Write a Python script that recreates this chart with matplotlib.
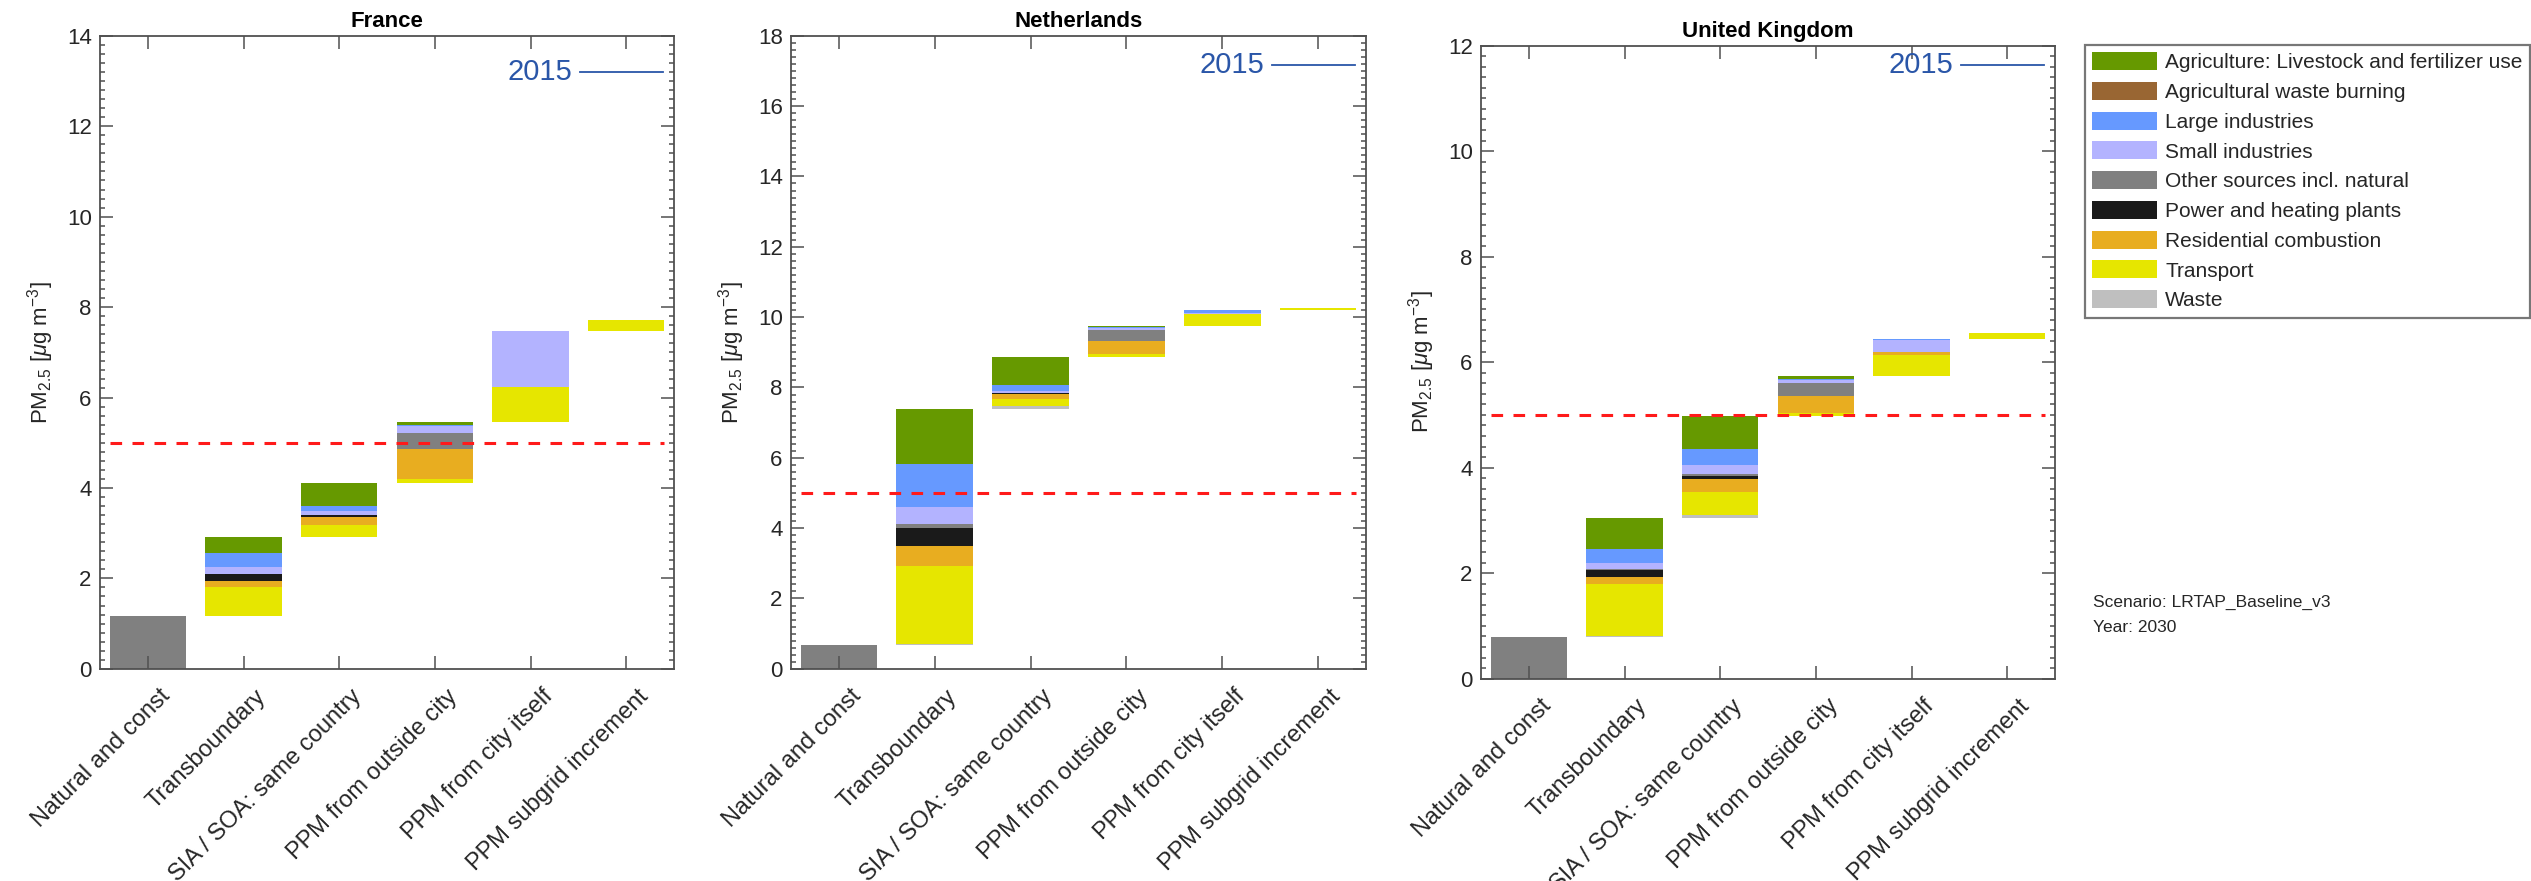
#!/usr/bin/env python3

import matplotlib as mpl
mpl.use("Agg")
import matplotlib.pyplot as plt
import matplotlib.transforms as mtransforms
from matplotlib.patches import Patch
from matplotlib.ticker import MultipleLocator
import numpy as np

# --- data -----------------------------------------------------------------
stages = ["Natural and const", "Transboundary", "SIA / SOA: same country",
          "PPM from outside city", "PPM from city itself", "PPM subgrid increment"]

sectors = ["Agriculture: Livestock and fertilizer use", "Agricultural waste burning",
           "Large industries", "Small industries", "Other sources incl. natural",
           "Power and heating plants", "Residential combustion", "Transport", "Waste"]
sector_colors = ["#669900", "#996633", "#6699ff", "#b3b3ff", "#808080",
                 "#1a1a1a", "#e8ad20", "#e6e600", "#bfbfbf"]

countries = ["France", "Netherlands", "United Kingdom"]
natural = [1.16, 0.68, 0.79]
value_2015 = [13.2, 17.17, 11.63]
ymax = [14, 18, 12]

# rows = sectors (legend order), cols = Transboundary, SIA, outside city, city, subgrid
france = [
    [0.35, 0.50, 0.05, 0.00, 0.00],
    [0.00, 0.00, 0.00, 0.00, 0.00],
    [0.30, 0.10, 0.02, 0.01, 0.00],
    [0.16, 0.09, 0.17, 1.23, 0.00],
    [0.01, 0.01, 0.34, 0.00, 0.00],
    [0.15, 0.05, 0.00, 0.00, 0.00],
    [0.14, 0.17, 0.67, 0.01, 0.00],
    [0.63, 0.26, 0.10, 0.78, 0.24],
    [0.01, 0.01, 0.00, 0.00, 0.00],
]
netherlands = [
    [1.58, 0.81, 0.02, 0.01, 0.00],
    [0.00, 0.00, 0.00, 0.00, 0.00],
    [1.22, 0.17, 0.02, 0.07, 0.00],
    [0.48, 0.04, 0.06, 0.02, 0.00],
    [0.12, 0.02, 0.32, 0.00, 0.00],
    [0.51, 0.02, 0.00, 0.00, 0.00],
    [0.55, 0.13, 0.37, 0.01, 0.00],
    [2.23, 0.22, 0.08, 0.35, 0.07],
    [0.02, 0.07, 0.00, 0.00, 0.00],
]
uk = [
    [0.60, 0.61, 0.06, 0.00, 0.00],
    [0.00, 0.00, 0.00, 0.00, 0.00],
    [0.25, 0.32, 0.01, 0.02, 0.00],
    [0.12, 0.17, 0.07, 0.23, 0.00],
    [0.02, 0.02, 0.24, 0.00, 0.00],
    [0.13, 0.07, 0.00, 0.00, 0.00],
    [0.13, 0.24, 0.33, 0.05, 0.00],
    [1.00, 0.43, 0.06, 0.40, 0.11],
    [0.01, 0.06, 0.00, 0.00, 0.00],
]
contributions = [france, netherlands, uk]

who_guideline = 5.0
scenario_text = "Scenario: LRTAP_Baseline_v3"
year_text = "Year: 2030"

# --- style ----------------------------------------------------------------
plt.rcParams["font.family"] = ["Liberation Sans", "DejaVu Sans"]
plt.rcParams["mathtext.fontset"] = "custom"
plt.rcParams["mathtext.rm"] = "Liberation Sans"
plt.rcParams["mathtext.it"] = "Liberation Sans:italic"
plt.rcParams["mathtext.bf"] = "Liberation Sans:bold"

dpi = 100
fig = plt.figure(figsize=(2531 / dpi, 881 / dpi), dpi=dpi)

axes_pos = [
    [100 / 2531, 212.2 / 881, 574 / 2531, 633.0 / 881],
    [791 / 2531, 212.2 / 881, 575 / 2531, 633.0 / 881],
    [1481 / 2531, 202.4 / 881, 574 / 2531, 633.0 / 881],
]

edge_col = "#505050"
text_col = "#262626"
x = np.arange(1, len(stages) + 1)
width = 0.8


def draw_country(ax, name, nat, contrib, y2015, top):
    # natural bar from zero
    ax.bar(x[0], nat, width, color="#808080", linewidth=0)
    contrib = np.array(contrib)
    base = nat
    # stack from the last sector (waste) up to agriculture
    for j in range(contrib.shape[1]):
        b = base
        for i in range(len(sectors) - 1, -1, -1):
            v = contrib[i, j]
            if v > 0:
                ax.bar(x[j + 1], v, width, bottom=b, color=sector_colors[i], linewidth=0)
            b += v
        base = b

    ax.plot([0.6, 6.4], [who_guideline, who_guideline], color="#ff1a1a",
            lw=2.2, linestyle=(0, (3.8, 3.4)))

    # 2015 marker
    ax.plot([5.52, 6.38], [y2015, y2015], color="#2a56a8", lw=1.3)
    ax.text(5.44, y2015, "2015", color="#2a56a8", fontsize=21, ha="right", va="center")

    ax.set_xlim(0.5, 6.5)
    ax.set_ylim(0, top)
    ax.yaxis.set_major_locator(MultipleLocator(2))
    ax.yaxis.set_minor_locator(MultipleLocator(0.2))

    ax.tick_params(axis="both", which="both", direction="in", top=True, right=True,
                   color=edge_col, width=1.1)
    ax.tick_params(axis="both", which="major", length=9.4)
    ax.tick_params(axis="y", which="minor", length=3.6)
    ax.tick_params(axis="x", which="major", pad=17.5)
    ax.tick_params(axis="y", which="major", labelsize=16, labelcolor=text_col, pad=6)
    for s in ax.spines.values():
        s.set_color(edge_col)
        s.set_linewidth(1.3)

    ax.set_xticks(x)
    ax.set_xticklabels(stages, rotation=45, ha="right", va="center",
                       rotation_mode="anchor", fontsize=17, color=text_col)
    # shift rotated labels so their ends sit just right of the ticks
    offset = mtransforms.ScaledTranslation(19 / dpi, 0, fig.dpi_scale_trans)
    for lab in ax.get_xticklabels():
        lab.set_transform(lab.get_transform() + offset)

    ax.set_ylabel("PM$_{2.5}$ [$\\mu$g m$^{-3}$]", fontsize=16, color=text_col, labelpad=8)
    ax.set_title(name, fontsize=16, fontweight="bold", pad=6)


for k in range(len(countries)):
    ax = fig.add_axes(axes_pos[k])
    draw_country(ax, countries[k], natural[k], contributions[k], value_2015[k], ymax[k])

handles = [Patch(facecolor=c, edgecolor="none") for c in sector_colors]
leg = fig.legend(handles, sectors, loc="upper left",
                 bbox_to_anchor=(2085 / 2531, 1 - 45 / 881), fontsize=15,
                 frameon=True, fancybox=False, edgecolor="#555555",
                 handlelength=3.1, handleheight=0.95, handletextpad=0.4,
                 labelspacing=0.46, borderpad=0.35, borderaxespad=0)
leg.get_frame().set_linewidth(1.6)
for t in leg.get_texts():
    t.set_color(text_col)

fig.text(2093 / 2531, 1 - 602 / 881, scenario_text, fontsize=12.5, color=text_col,
         va="center", ha="left")
fig.text(2093 / 2531, 1 - 628 / 881, year_text, fontsize=12.5, color=text_col,
         va="center", ha="left")

fig.savefig("out.png", dpi=dpi)
